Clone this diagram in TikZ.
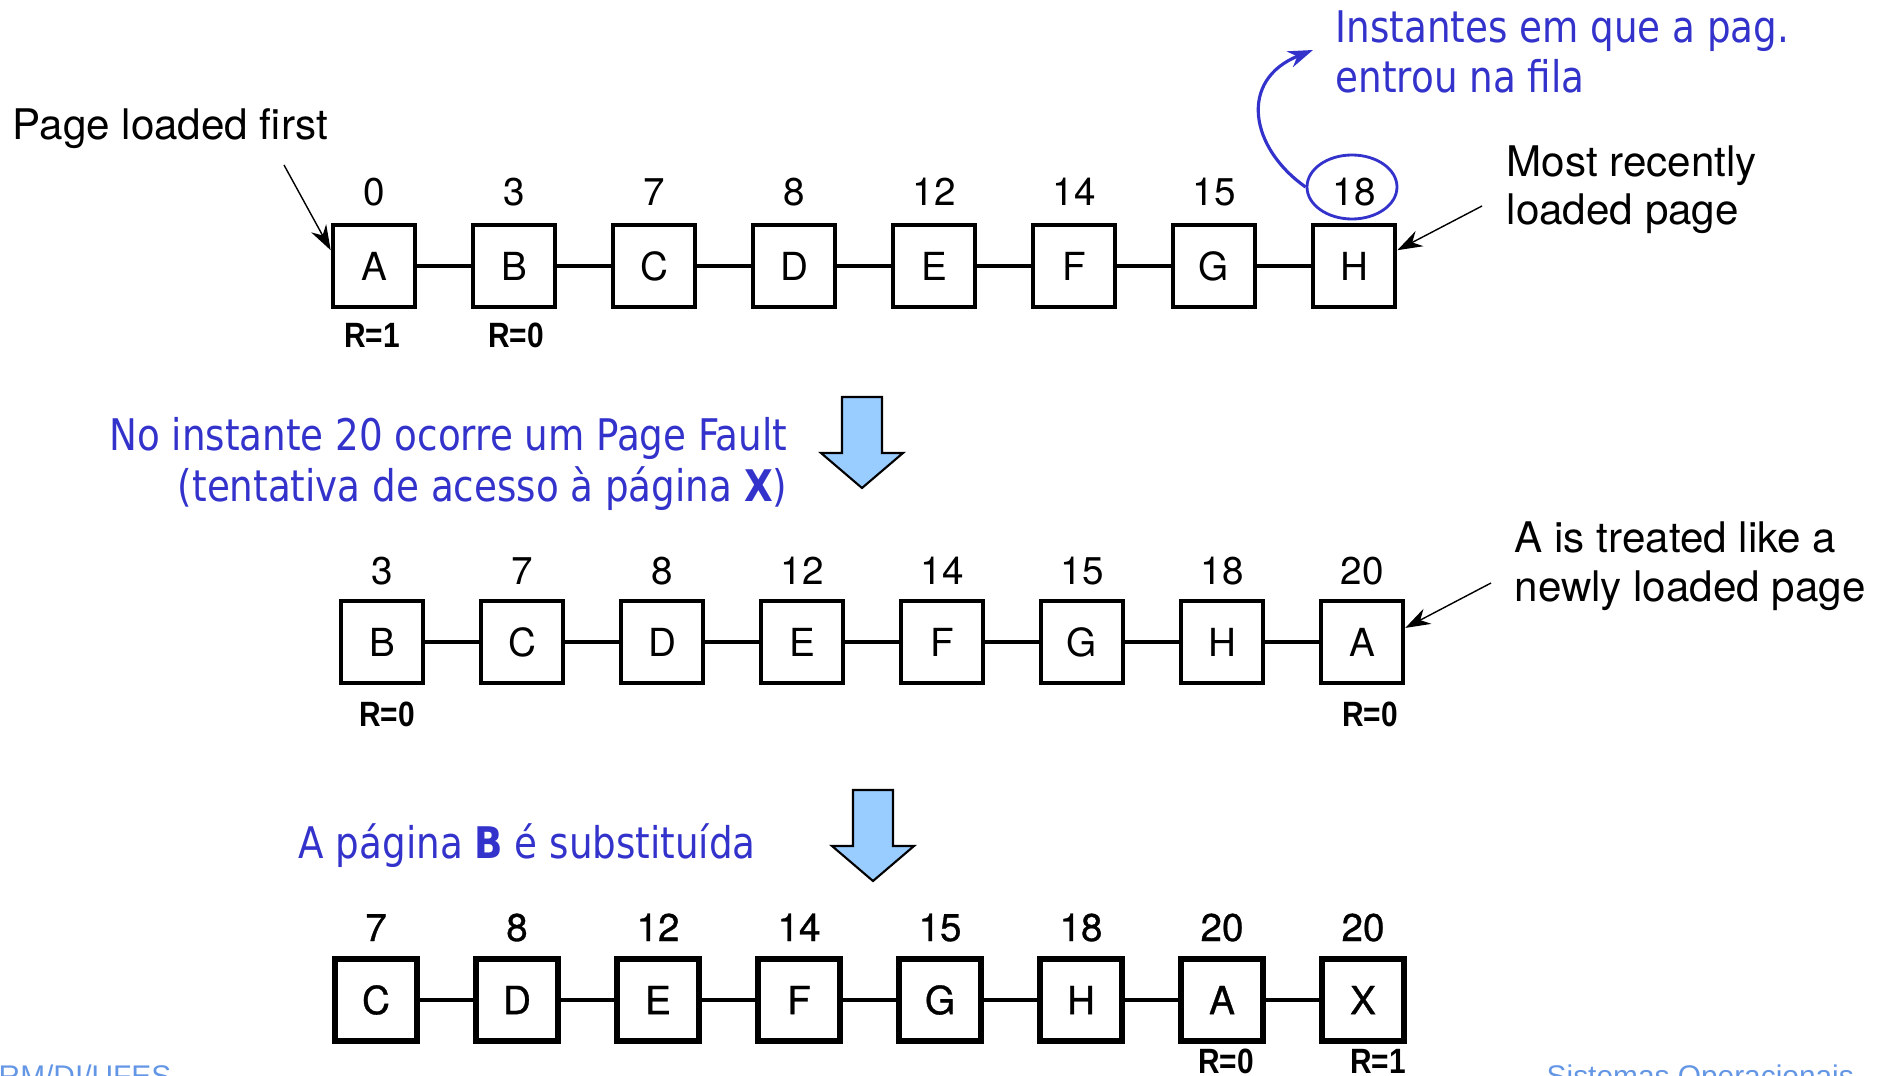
\documentclass[tikz,border=0pt]{standalone}
\usepackage{fontspec}
\setmainfont{TeX Gyre Heros}
\newfontfamily\heavyfont[FakeBold=0.8]{TeX Gyre Heros}
\newfontfamily\bluefont[FakeStretch=0.95]{DejaVu Sans Condensed}
\newfontfamily\rfont[FakeStretch=0.85]{Liberation Sans}
\newfontfamily\footfont{Liberation Sans}
\usetikzlibrary{shapes.geometric, arrows.meta}
\definecolor{slideblue}{RGB}{51,51,204}
\definecolor{arrowblue}{RGB}{153,204,255}
\definecolor{footblue}{RGB}{100,150,230}
\begin{document}
\begin{tikzpicture}[x=0.1mm, y=-0.1mm, >={Stealth[length=2.5mm,width=1.7mm]},
	page/.style={draw, line width=1.3pt, minimum size=8.2mm, inner sep=0pt, font=\fontsize{11}{11}\selectfont},
	time/.style={anchor=base, inner sep=0pt, font=\fontsize{11}{11}\selectfont},
	rbit/.style={anchor=base, inner sep=0pt, font=\rfont\bfseries\fontsize{10}{10}\selectfont},
	note/.style={anchor=base west, align=left, inner sep=0pt, font=\fontsize{12}{13.9}\selectfont},
	bluenote/.style={inner sep=0pt, text=slideblue, font=\bluefont\fontsize{12.4}{14.3}\selectfont},
	link/.style={line width=1pt},
	fault/.style={draw=black, fill=arrowblue, line width=0.6pt}]
	\useasboundingbox (0,0) rectangle (1894,1076);
	% first queue
	\foreach \p/\t [count=\i] in {A/0,B/3,C/7,D/8,E/12,F/14,G/15,H/18}{
		\node[page] (t\i) at (234+140*\i,266) {\p};
		\node[time] (tn\i) at (234+140*\i,206) {\t};
	}
	\foreach \j [count=\i] in {2,...,8} \draw[link] (t\i)--(t\j);
	\node[rbit] (tr1) at (372,348) {R=1};
	\node[rbit] (tr2) at (516,348) {R=0};
	% second queue
	\foreach \p/\t [count=\i] in {B/3,C/7,D/8,E/12,F/14,G/15,H/18,A/20}{
		\node[page] (m\i) at (242+140*\i,642) {\p};
		\node[time] (mn\i) at (242+140*\i,584) {\t};
	}
	\foreach \j [count=\i] in {2,...,8} \draw[link] (m\i)--(m\j);
	\node[rbit] (mr1) at (387,726) {R=0};
	\node[rbit] (mr8) at (1370,726) {R=0};
	% third queue
	\foreach \p/\t [count=\i] in {C/7,D/8,E/12,F/14,G/15,H/18,A/20,X/20}{
		\node[page, line width=1.8pt, font=\heavyfont\fontsize{11}{11}\selectfont] (b\i) at (235+141*\i,1000) {\p};
		\node[time, font=\heavyfont\fontsize{11}{11}\selectfont] (bn\i) at (235+141*\i,941) {\t};
	}
	\foreach \j [count=\i] in {2,...,8} \draw[link, line width=1.4pt] (b\i)--(b\j);
	\node[rbit] (br7) at (1226,1073) {R=0};
	\node[rbit] (br8) at (1378,1073) {R=1};
	% black notes
	\node[note] (first) at (12,140) {Page loaded first};
	\node[note] (recent) at (1506,225) {Most recently\\loaded page};
	\node[note] (newly) at (1514,601) {A is treated like a\\newly loaded page};
	\path (284,165) coordinate (firsttail) (1482,206) coordinate (recenttail) (1491,583) coordinate (newlytail);
	\draw[->] (firsttail)--(t1.160);
	\draw[->] (recenttail)--(t8.20);
	\draw[->] (newlytail)--(m8.18);
	% blue notes
	\node[bluenote, anchor=base west, align=left] (inst) at (1335,93) {Instantes em que a pag.\\entrou na fila};
	\node[draw=slideblue, ellipse, line width=0.8pt, minimum width=9mm, minimum height=6.4mm] (ring) at (1352,187) {};
	\coordinate (insttip) at (1313,50);
	\draw[->, slideblue, line width=0.9pt] (ring.west) .. controls (1250,148) and (1238,80) .. (insttip);
	\node[bluenote, anchor=base east, align=right] (fault) at (788,501) {No instante 20 ocorre um Page Fault\\(tentativa de acesso à página \textbf{X})};
	\node[bluenote, anchor=base west] (swap) at (298,858) {A página \textbf{B} é substituída};
	\foreach \x/\y in {862/397,873/790}
		\draw[fault] (\x-20,\y)--++(40,0)--++(0,56)--++(21,0)--++(-41,35)--++(-41,-35)--++(21,0)--cycle;
	% footer
	\node[anchor=base west, inner sep=0pt, text=footblue, font=\footfont\fontsize{8.5}{8.5}\selectfont] (lab) at (-2,1086) {RM/DI/UFES};
	\node[anchor=base west, inner sep=0pt, text=footblue, font=\footfont\fontsize{8.5}{8.5}\selectfont] (course) at (1546,1086) {Sistemas Operacionais};
\end{tikzpicture}
\end{document}
